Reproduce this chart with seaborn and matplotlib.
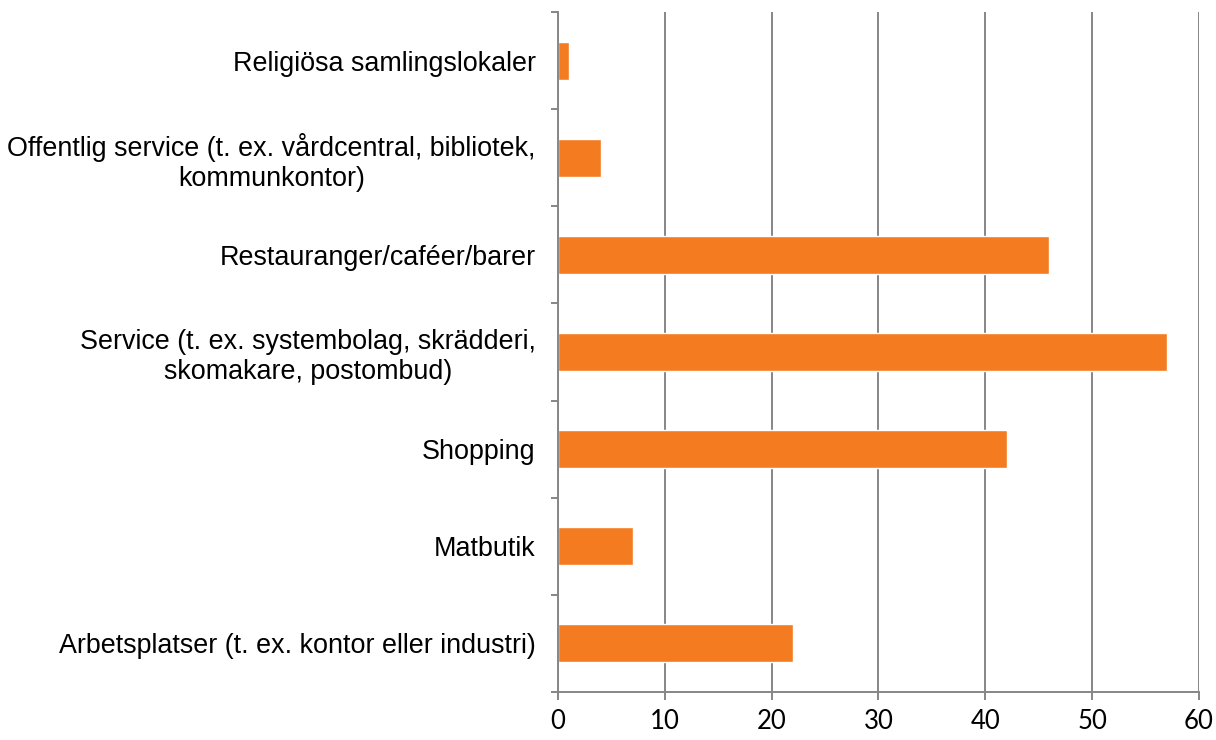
import numpy as np
import pandas as pd
import matplotlib
matplotlib.use("Agg")
import matplotlib.pyplot as plt
import seaborn as sns

# data, top to bottom as in the chart
categories = [
    "Religiösa samlingslokaler",
    "Offentlig service (t. ex. vårdcentral, bibliotek,\nkommunkontor)",
    "Restauranger/caféer/barer",
    "Service (t. ex. systembolag, skrädderi,\nskomakare, postombud)",
    "Shopping",
    "Matbutik",
    "Arbetsplatser (t. ex. kontor eller industri)",
]
values = [1, 4, 46, 57, 42, 7, 22]
x_ticks = [0, 10, 20, 30, 40, 50, 60]

df = pd.DataFrame({"kategori": categories, "antal": values})

sns.set_style("white")
grey = "#868686"
orange = "#F47B20"
lw = 1.4

fig = plt.figure(figsize=(12.16, 7.40), dpi=100)
ax = fig.add_axes([0.4589, 0.0649, 0.986 - 0.4589, 0.9838 - 0.0649])

sns.barplot(data=df, x="antal", y="kategori", orient="h", color=orange,
            saturation=1, width=0.39, ax=ax)

ax.set_xlim(0, 60)
ax.set_ylim(len(categories) - 0.5, -0.5)
ax.set_xticks(x_ticks)
ax.set_xticklabels([str(t) for t in x_ticks], family="Lato", fontsize=18.5,
                   color="black")
ax.tick_params(axis="x", bottom=True, direction="out", length=6, width=lw,
               color=grey, pad=6)

# category labels, ticks between categories
ax.set_yticks(np.arange(len(categories)))
ax.set_yticklabels(categories, family="Liberation Sans", fontsize=19.4,
                   color="black", ha="right", multialignment="center",
                   linespacing=1.2)
ax.tick_params(axis="y", which="major", length=0, pad=16)
ax.set_yticks(np.arange(-0.5, len(categories)), minor=True)
ax.tick_params(axis="y", which="minor", left=True, direction="out",
               length=5, width=lw, color=grey)

ax.set_xlabel("")
ax.set_ylabel("")

ax.grid(axis="x", color=grey, linewidth=lw)
ax.set_axisbelow(True)
for side in ["top", "right"]:
    ax.spines[side].set_visible(False)
for side in ["left", "bottom"]:
    ax.spines[side].set_color(grey)
    ax.spines[side].set_linewidth(lw)

fig.savefig("out.png", dpi=100)
